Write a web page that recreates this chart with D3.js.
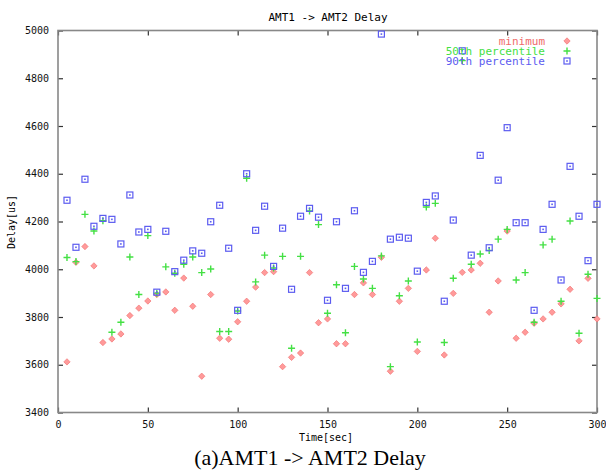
<html>
<head>
<style>
  body { margin: 0; background: #fff; }
  .tick text { font-family: "DejaVu Sans Mono", monospace; font-size: 10px; fill: #111; }
</style>
</head>
<body>
<svg id="chart" width="606" height="470"></svg>
<script src="https://cdn.jsdelivr.net/npm/d3@7"></script>
<script>
// sample times (sec)
let times = [5,10,15,20,25,30,35,40,45,50,55,60,65,70,75,80,85,90,95,100,
             105,110,115,120,125,130,135,140,145,150,155,160,165,170,175,180,185,190,195,200,
             205,210,215,220,225,230,235,240,245,250,255,260,265,270,275,280,285,290,295,300]

let minimum = [3612,4029,4095,4014,3693,3708,3729,3806,3837,3867,3894,3905,3828,3963,3845,3552,3894,3711,3707,3780,
               3866,3925,3986,3990,3592,3631,3649,3986,3776,3792,3688,3688,3894,3943,3894,4050,3573,3866,3920,3656,
               3997,4130,3641,3899,3987,3997,4025,3820,3951,4160,3711,3736,3774,3792,3820,3855,3916,3700,3962,3792]

let pct50 = [4049,4032,4230,4160,4203,3736,3778,4051,3894,4141,3900,4010,3983,4021,4051,3986,4001,3739,3739,3825,
             4381,3947,4059,4005,4054,3669,4054,4244,4187,3816,3935,3734,4012,3959,3920,4056,3592,3889,3951,3695,
             4261,4276,3693,3962,4874,4021,4064,4079,4126,4167,3955,3986,3778,4102,4126,3866,4202,3732,3979,3878]

let pct90 = [4289,4092,4377,4180,4213,4209,4106,4311,4156,4167,3904,4159,3990,4038,4077,4067,4199,4268,4088,3828,
             4400,4163,4264,4012,4172,3916,4222,4255,4218,3870,4199,3920,4245,3987,4033,4985,4126,4134,4130,3992,
             4280,4307,3866,4206,4915,4059,4477,4090,4373,4593,4195,4195,3828,4167,4272,3955,4431,4222,4036,4272]

let xTicks = [0,50,100,150,200,250,300]
let yTicks = [3400,3600,3800,4000,4200,4400,4600,4800,5000]

let svg = d3.select("#chart")
let pLeft = 58, pRight = 597, pTop = 30.5, pBottom = 412.5

let xScale = d3.scaleLinear().domain([0, 300]).range([pLeft, pRight])
let yScale = d3.scaleLinear().domain([3400, 5000]).range([pBottom, pTop])

// axes: ticks point inward, labels only bottom/left
svg.append("g").attr("transform", "translate(0," + pBottom + ")")
    .call(d3.axisBottom(xScale).tickValues(xTicks).tickSizeInner(-5).tickSizeOuter(0).tickPadding(8).tickFormat(d3.format("d")))
svg.append("g").attr("transform", "translate(0," + pTop + ")")
    .call(d3.axisTop(xScale).tickValues(xTicks).tickSizeInner(-5).tickSizeOuter(0).tickFormat(""))
svg.append("g").attr("transform", "translate(" + pLeft + ",0)")
    .call(d3.axisLeft(yScale).tickValues(yTicks).tickSizeInner(-5).tickSizeOuter(0).tickPadding(9).tickFormat(d3.format("d")))
svg.append("g").attr("transform", "translate(" + pRight + ",0)")
    .call(d3.axisRight(yScale).tickValues(yTicks).tickSizeInner(-5).tickSizeOuter(0).tickFormat(""))

svg.selectAll(".domain").remove()
svg.selectAll(".tick line").attr("stroke", "#333").attr("stroke-width", 1.2)

// frame
svg.append("rect")
    .attr("x", pLeft).attr("y", pTop)
    .attr("width", pRight - pLeft).attr("height", pBottom - pTop)
    .attr("fill", "none").attr("stroke", "#888").attr("stroke-width", 1.6)

// titles
svg.append("text").attr("x", 328).attr("y", 21).attr("text-anchor", "middle")
    .style("font-family", "DejaVu Sans Mono").style("font-size", "11px")
    .text("AMT1 -> AMT2 Delay")
svg.append("text").attr("x", 326).attr("y", 441).attr("text-anchor", "middle")
    .style("font-family", "DejaVu Sans Mono").style("font-size", "10px")
    .text("Time[sec]")
svg.append("text").attr("transform", "translate(15,222) rotate(-90)").attr("text-anchor", "middle")
    .style("font-family", "DejaVu Sans Mono").style("font-size", "10px")
    .text("Delay[us]")
svg.append("text").attr("x", 310).attr("y", 465).attr("text-anchor", "middle")
    .style("font-family", "Liberation Serif").style("font-size", "22px")
    .text("(a)AMT1 -> AMT2 Delay")

let red = "#f06a6a", green = "#44e044", blue = "#5c5cf0"

function diamond(g, cx, cy) {
    g.append("path")
        .attr("d", "M" + cx + "," + (cy - 3.2) + "L" + (cx + 3.2) + "," + cy + "L" + cx + "," + (cy + 3.2) + "L" + (cx - 3.2) + "," + cy + "Z")
        .attr("fill", "#ff9a9a").attr("stroke", red).attr("stroke-width", 0.6)
}
function plus(g, cx, cy) {
    g.append("path")
        .attr("d", "M" + (cx - 3.5) + "," + cy + "H" + (cx + 3.5) + "M" + cx + "," + (cy - 3.5) + "V" + (cy + 3.5))
        .attr("stroke", green).attr("stroke-width", 1.4).attr("fill", "none")
}
function square(g, cx, cy) {
    g.append("rect").attr("x", cx - 3).attr("y", cy - 3).attr("width", 6).attr("height", 6)
        .attr("fill", "none").attr("stroke", blue).attr("stroke-width", 1.2)
    g.append("rect").attr("x", cx - 0.8).attr("y", cy - 0.8).attr("width", 1.6).attr("height", 1.6)
        .attr("fill", blue)
}

let marks = svg.append("g")
times.forEach((t, i) => diamond(marks, xScale(t), yScale(minimum[i])))
times.forEach((t, i) => plus(marks, xScale(t), yScale(pct50[i])))
times.forEach((t, i) => square(marks, xScale(t), yScale(pct90[i])))

// legend
let legend = [["minimum", red, diamond], ["50th percentile", green, plus], ["90th percentile", blue, square]]
legend.forEach((d, i) => {
    let y = 41 + i * 10
    svg.append("text").attr("x", 545).attr("y", y + 4).attr("text-anchor", "end")
        .style("font-family", "DejaVu Sans Mono").style("font-size", "11px")
        .attr("fill", d[1]).text(d[0])
    d[2](svg, 567, y)
})
</script>
</body>
</html>
